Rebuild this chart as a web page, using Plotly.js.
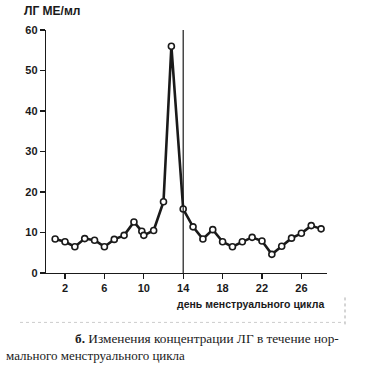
<!DOCTYPE html>
<html><head><meta charset="utf-8">
<script src="https://cdn.plot.ly/plotly-3.0.1.min.js"></script>
<style>html,body{margin:0;padding:0;background:#fff}#c{width:375px;height:375px}</style>
</head><body><div id="c"></div>
<script>
const days = [1,2,3,4,5,6,7,8,9,9.8,10,11,12,12.8,14,15,16,17,18,19,20,21,22,23,24,25,26,27,28];
const lh   = [8.4,7.7,6.5,8.5,8.1,6.5,8.3,9.3,12.6,10.3,9.3,10.5,17.6,56,15.8,11.4,8.4,10.7,7.7,6.5,7.7,8.8,7.9,4.6,6.6,8.6,9.8,11.7,10.9];
const xTicks = [2,6,10,14,18,22,26];
const yTicks = [0,10,20,30,40,50,60];
const ovulationDay = 14;
const yUnit = 'ЛГ МЕ/мл';
const xTitle = 'день менструального цикла';
const captionBold = 'б.';
const captionLine1 = ' Изменения концентрации ЛГ в течение нор-';
const captionLine2 = 'мального менструального цикла';

const ink = '#1a1a1a';
const L = 46, R = 48, T = 30, B = 101.5;
const W = 375 - L - R, H = 375 - T - B;
const px = x => (x - L) / W;
const py = y => (375 - B - y) / H;

const trace = {
  x: days, y: lh, type: 'scatter', mode: 'lines+markers',
  line: {color: ink, width: 2.6},
  marker: {symbol: 'circle', size: 6, color: '#fff', line: {color: ink, width: 1.6}},
  hoverinfo: 'skip'
};

const layout = {
  width: 375, height: 375,
  margin: {l: L, r: R, t: T, b: B},
  paper_bgcolor: '#fff', plot_bgcolor: '#fff',
  showlegend: false,
  font: {family: 'Liberation Sans, Arial, sans-serif', color: ink},
  xaxis: {
    range: [0.07, 28.6], tickvals: xTicks, ticktext: xTicks.map(String),
    showgrid: false, zeroline: false, showline: true, linecolor: ink, linewidth: 1.2,
    ticks: 'outside', ticklen: 5, tickwidth: 1.2, tickcolor: ink,
    tickfont: {size: 11, color: ink, family: 'Liberation Sans, Arial, sans-serif', weight: 'bold'}
  },
  yaxis: {
    range: [0, 60], tickvals: yTicks, ticktext: yTicks.map(String),
    showgrid: false, zeroline: false, showline: true, linecolor: ink, linewidth: 1.2,
    ticks: 'outside', ticklen: 5, tickwidth: 1.2, tickcolor: ink,
    tickfont: {size: 11, color: ink, family: 'Liberation Sans, Arial, sans-serif', weight: 'bold'}
  },
  shapes: [
    {type: 'line', xref: 'x', yref: 'y', x0: ovulationDay, x1: ovulationDay, y0: 0, y1: 60,
     line: {color: ink, width: 1.2}},
    {type: 'line', xref: 'paper', yref: 'paper', x0: px(345), x1: px(345), y0: py(298), y1: py(325),
     line: {color: '#aaa', width: 1, dash: 'dot'}},
    {type: 'line', xref: 'paper', yref: 'paper', x0: px(20), x1: px(345), y0: py(323), y1: py(323),
     line: {color: '#ccc', width: 1, dash: 'dot'}}
  ],
  annotations: [
    {xref: 'paper', yref: 'paper', x: px(22), y: py(11), xanchor: 'left', yanchor: 'middle',
     text: yUnit, showarrow: false,
     font: {size: 12, color: ink, family: 'Liberation Sans, Arial, sans-serif', weight: 'bold'}},
    {xref: 'paper', yref: 'paper', x: px(326), y: py(305), xanchor: 'right', yanchor: 'middle',
     text: '<b>' + xTitle + '</b>', showarrow: false,
     font: {size: 10.5, color: ink, family: 'Liberation Sans, Arial, sans-serif'}},
    {xref: 'paper', yref: 'paper', x: px(73), y: py(339), xanchor: 'left', yanchor: 'middle',
     text: '<b>' + captionBold + '</b>' + captionLine1, showarrow: false,
     font: {size: 13.3, color: ink, family: 'Liberation Serif, Times New Roman, serif'}},
    {xref: 'paper', yref: 'paper', x: px(4), y: py(356), xanchor: 'left', yanchor: 'middle',
     text: captionLine2, showarrow: false,
     font: {size: 13, color: ink, family: 'Liberation Serif, Times New Roman, serif'}}
  ]
};

Plotly.newPlot('c', [trace], layout, {displayModeBar: false, staticPlot: true});
</script>
</body></html>
